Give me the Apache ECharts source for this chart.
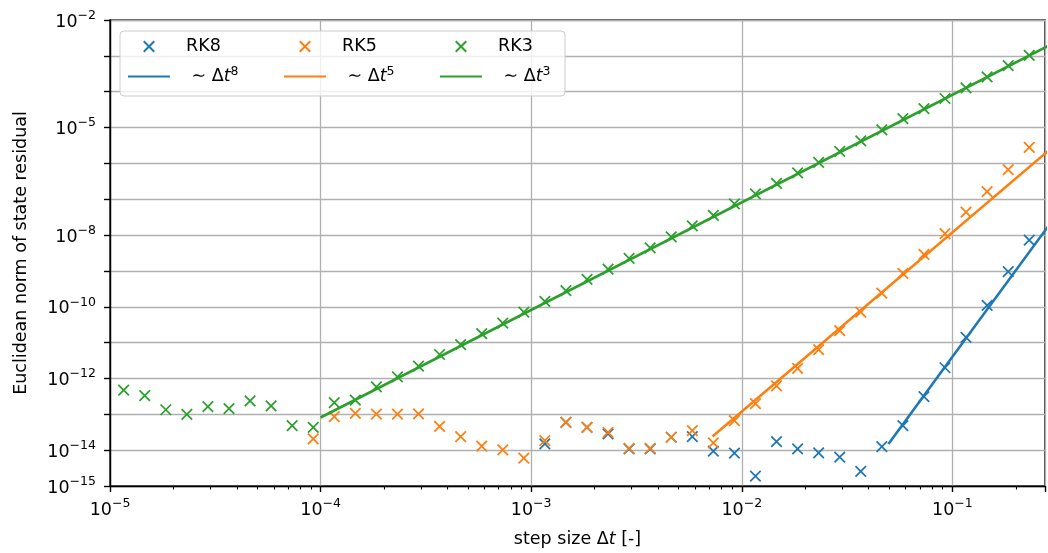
<!DOCTYPE html>
<html>
<head>
<meta charset="utf-8">
<script src="https://cdn.jsdelivr.net/npm/echarts@6/dist/echarts.min.js"></script>
<style>
  html, body { margin: 0; padding: 0; background: #fff; }
  #chart { width: 1048px; height: 553px; }
</style>
</head>
<body>
<div id="chart"></div>
<script>
// Step sizes of the convergence study (geometric, ten per decade)
const stepSizes = [
  1.161e-5, 1.462e-5, 1.841e-5, 2.317e-5, 2.917e-5, 3.673e-5, 4.624e-5, 5.821e-5, 7.328e-5, 9.226e-5,
  1.161e-4, 1.462e-4, 1.841e-4, 2.317e-4, 2.917e-4, 3.673e-4, 4.624e-4, 5.821e-4, 7.328e-4, 9.226e-4,
  1.161e-3, 1.462e-3, 1.841e-3, 2.317e-3, 2.917e-3, 3.673e-3, 4.624e-3, 5.821e-3, 7.328e-3, 9.226e-3,
  1.161e-2, 1.462e-2, 1.841e-2, 2.317e-2, 2.917e-2, 3.673e-2, 4.624e-2, 5.821e-2, 7.328e-2, 9.226e-2,
  0.1161, 0.1462, 0.1841, 0.2317
];

// Residual norms per scheme (null = not computed for that step size)
const errRK8 = [
  null, null, null, null, null, null, null, null, null, null,
  null, null, null, null, null, null, null, null, null, null,
  1.49e-14, 5.96e-14, 4.33e-14, 2.83e-14, 1.08e-14, 1.08e-14, 2.29e-14, 2.39e-14, 9.35e-15, 8.24e-15,
  1.9e-15, 1.74e-14, 1.08e-14, 8.4e-15, 6.38e-15, 2.56e-15, 1.26e-14, 4.82e-14, 3.13e-13, 1.99e-12,
  1.41e-11, 1.09e-10, 9.5e-10, 7.2e-9
];
const errRK5 = [
  null, null, null, null, null, null, null, null, null, 2.05e-14,
  8.57e-14, 1.06e-13, 1.01e-13, 1.01e-13, 1.03e-13, 4.6e-14, 2.39e-14, 1.29e-14, 1.02e-14, 5.98e-15,
  1.85e-14, 5.96e-14, 4.33e-14, 3.15e-14, 1.13e-14, 1.13e-14, 2.29e-14, 3.51e-14, 1.59e-14, 6.64e-14,
  2.0e-13, 6.2e-13, 1.91e-12, 6.4e-12, 2.15e-11, 7.1e-11, 2.39e-10, 8.6e-10, 2.88e-9, 1.10e-8,
  4.39e-8, 1.63e-7, 6.65e-7, 2.78e-6
];
const errRK3 = [
  4.7e-13, 3.3e-13, 1.34e-13, 1.0e-13, 1.65e-13, 1.45e-13, 2.38e-13, 1.73e-13, 4.8e-14, 4.3e-14,
  2.13e-13, 2.47e-13, 5.8e-13, 1.10e-12, 2.22e-12, 4.66e-12, 8.8e-12, 1.78e-11, 3.52e-11, 7.1e-11,
  1.41e-10, 2.84e-10, 5.83e-10, 1.12e-9, 2.23e-9, 4.41e-9, 8.9e-9, 1.80e-8, 3.53e-8, 7.45e-8,
  1.41e-7, 2.79e-7, 5.4e-7, 1.07e-6, 2.15e-6, 4.24e-6, 8.55e-6, 1.77e-5, 3.35e-5, 6.46e-5,
  1.28e-4, 2.58e-4, 5.31e-4, 1.03e-3
];

// Power-law reference lines (start and end of fitted range)
const fitDt8 = [0.0497, 0.2904];
const fitErr8 = [1.49e-14, 2.04e-8];
const fitDt5 = [7.26e-3, 0.2904];
const fitErr5 = [2.39e-14, 2.45e-6];
const fitDt3 = [1.0e-4, 0.2904];
const fitErr3 = [8.15e-14, 2.0e-3];

// Axis ranges and labelled decades
const xMin = 1e-5, xMax = 0.2753;
const yMin = 1e-15, yMax = 1e-2;
const yLabelExponents = [-2, -5, -8, -10, -12, -14, -15];
const xMinorTicks = [
  2e-5, 3e-5, 4e-5, 5e-5, 6e-5, 7e-5, 8e-5, 9e-5,
  2e-4, 3e-4, 4e-4, 5e-4, 6e-4, 7e-4, 8e-4, 9e-4,
  2e-3, 3e-3, 4e-3, 5e-3, 6e-3, 7e-3, 8e-3, 9e-3,
  2e-2, 3e-2, 4e-2, 5e-2, 6e-2, 7e-2, 8e-2, 9e-2,
  0.2
];

const C_RK8 = '#1f77b4', C_RK5 = '#ff7f0e', C_RK3 = '#2ca02c';
const FONT = 'DejaVu Sans';
const FS = 17.5;
const CROSS = 'path://M0,0L10,10M10,0L0,10';
// legend glyphs span the full legend key box so every column has the same width
const CROSS_KEY = 'path://M0,0M42,10.5M15.75,0L26.25,10.5M26.25,0L15.75,10.5';
const LINE_KEY = 'path://M0,0M42,10.5M0,5.25L42,5.25';

function pairs(xs, ys) {
  const out = [];
  for (let i = 0; i < xs.length; i++) if (ys[i] != null) out.push([xs[i], ys[i]]);
  return out;
}

const powRich = {
  b: { fontFamily: FONT, fontSize: FS, color: '#000', lineHeight: 22, verticalAlign: 'bottom' },
  s: { fontFamily: FONT, fontSize: 12.5, color: '#000', lineHeight: 12, verticalAlign: 'top' }
};
function powLabel(v) {
  const e = Math.round(Math.log10(v));
  return '{b|10}{s|' + (e < 0 ? '\u2212' + (-e) : e) + '}';
}

function markers(name, ys, color) {
  return {
    name: name, type: 'scatter', data: pairs(stepSizes, ys),
    symbol: CROSS, symbolSize: 10.5, clip: true,
    itemStyle: { color: 'rgba(0,0,0,0)', borderColor: color, borderWidth: 1.75, opacity: 1 },
    emphasis: { disabled: true }
  };
}
function fitLine(name, xs, ys, color) {
  return {
    name: name, type: 'line', data: pairs(xs, ys),
    symbol: 'none', clip: true,
    lineStyle: { color: color, width: 2.6 },
    itemStyle: { color: color, borderColor: color, borderWidth: 2.6 },
    emphasis: { disabled: true }
  };
}

const legendNames = {
  'RK8': '{p|RK8}', 'RK5': '{p|RK5}', 'RK3': '{p|RK3}',
  'RK8 fit': '{p| \u223C \u0394}{i|t}{s|8}',
  'RK5 fit': '{p| \u223C \u0394}{i|t}{s|5}',
  'RK3 fit': '{p| \u223C \u0394}{i|t}{s|3}'
};

const chart = echarts.init(document.getElementById('chart'), null, { renderer: 'canvas' });
chart.setOption({
  animation: false,
  backgroundColor: '#fff',
  textStyle: { fontFamily: FONT },
  grid: {
    left: 110, top: 20, right: -1, bottom: 64,
    show: true, borderColor: '#000', borderWidth: 1.4, backgroundColor: 'transparent'
  },
  legend: {
    left: 120, top: 31, width: 470,
    orient: 'horizontal',
    padding: [4, 7, 8, 7],
    itemGap: 7, itemWidth: 42, itemHeight: 10.5,
    backgroundColor: 'rgba(255,255,255,0.8)',
    borderColor: '#cccccc', borderWidth: 1, borderRadius: 4,
    selectedMode: false,
    textStyle: {
      fontFamily: FONT, fontSize: FS, color: '#000', lineHeight: 23,
      padding: [0, 0, 0, 11], width: 90,
      rich: {
        p: { fontFamily: FONT, fontSize: FS, lineHeight: 23, verticalAlign: 'middle' },
        i: { fontFamily: FONT, fontSize: FS, fontStyle: 'italic', lineHeight: 23, verticalAlign: 'middle' },
        s: { fontFamily: FONT, fontSize: 12.5, lineHeight: 13, verticalAlign: 'top' }
      }
    },
    formatter: function (name) { return legendNames[name] || name; },
    data: [
      { name: 'RK8', icon: CROSS_KEY }, { name: 'RK5', icon: CROSS_KEY },
      { name: 'RK3', icon: CROSS_KEY, textStyle: { width: 60 } },
      { name: 'RK8 fit', icon: LINE_KEY }, { name: 'RK5 fit', icon: LINE_KEY },
      { name: 'RK3 fit', icon: LINE_KEY, textStyle: { width: 60 } }
    ]
  },
  xAxis: [
    {
      type: 'log', logBase: 10, min: xMin, max: xMax, position: 'bottom', interval: 1,
      name: '{n|step size \u0394}{i|t}{n| [-]}',
      nameLocation: 'middle', nameGap: 44,
      nameTextStyle: {
        rich: {
          n: { fontFamily: FONT, fontSize: FS, color: '#000' },
          i: { fontFamily: FONT, fontSize: FS, color: '#000', fontStyle: 'italic' }
        }
      },
      axisLine: { show: true, onZero: false, lineStyle: { color: '#000', width: 1.4 } },
      axisTick: { show: true, length: 6, lineStyle: { color: '#000', width: 1.4 } },
      axisLabel: {
        margin: 11, rich: powRich,
        formatter: function (v) {
          const l = Math.log10(v);
          return Math.abs(l - Math.round(l)) < 1e-6 ? powLabel(v) : '';
        }
      },
      splitLine: { show: true, lineStyle: { color: '#b0b0b0', width: 1.3 } }
    },
    {
      type: 'log', logBase: 10, min: xMin, max: xMax, position: 'bottom', gridIndex: 0,
      axisLine: { show: false },
      axisLabel: { show: false },
      splitLine: { show: false },
      axisTick: { show: true, length: 3.5, customValues: xMinorTicks, lineStyle: { color: '#000', width: 1.1 } }
    }
  ],
  yAxis: {
    type: 'log', logBase: 10, min: yMin, max: yMax, interval: 1,
    name: 'Euclidean norm of state residual',
    nameLocation: 'middle', nameGap: 80, nameRotate: 90,
    nameTextStyle: { fontFamily: FONT, fontSize: FS, color: '#000' },
    axisLine: { show: true, onZero: false, lineStyle: { color: '#000', width: 1.4 } },
    axisTick: { show: true, length: 6, lineStyle: { color: '#000', width: 1.4 } },
    axisLabel: {
      margin: 14, rich: powRich,
      formatter: function (v) {
        const e = Math.round(Math.log10(v));
        return yLabelExponents.indexOf(e) >= 0 ? powLabel(v) : '';
      }
    },
    splitLine: { show: true, lineStyle: { color: '#b0b0b0', width: 1.3 } }
  },
  series: [
    markers('RK8', errRK8, C_RK8),
    fitLine('RK8 fit', fitDt8, fitErr8, C_RK8),
    markers('RK5', errRK5, C_RK5),
    fitLine('RK5 fit', fitDt5, fitErr5, C_RK5),
    markers('RK3', errRK3, C_RK3),
    fitLine('RK3 fit', fitDt3, fitErr3, C_RK3)
  ]
});
</script>
</body>
</html>
